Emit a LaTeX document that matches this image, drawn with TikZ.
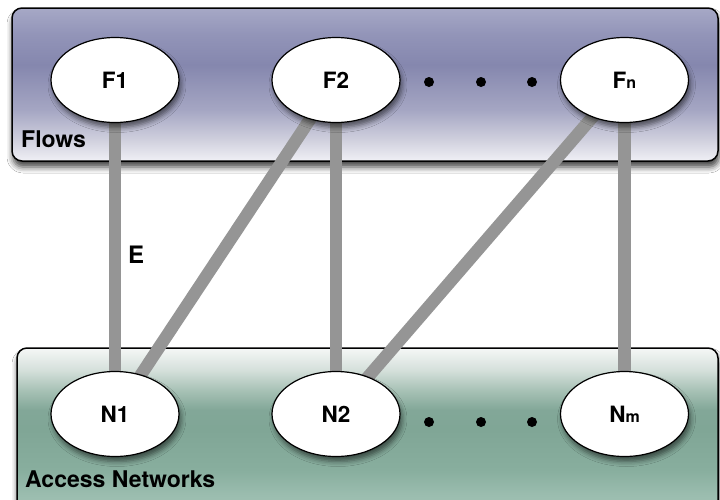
\documentclass[tikz,border=0pt]{standalone}
\usepackage{fontspec}
\setmainfont{TeX Gyre Heros}
\usepackage{xcolor}
\definecolor{flowa}{HTML}{F0F0F5}
\definecolor{flowb}{HTML}{D0D0DE}
\definecolor{flowc}{HTML}{A5A6C3}
\definecolor{flowd}{HTML}{8587AE}
\definecolor{flowe}{HTML}{9294B8}
\definecolor{flowf}{HTML}{A6A8C6}
\definecolor{neta}{HTML}{A5C4B7}
\definecolor{netb}{HTML}{9BBDAF}
\definecolor{netc}{HTML}{88AE9E}
\definecolor{netd}{HTML}{80A696}
\definecolor{nete}{HTML}{82A798}
\definecolor{netf}{HTML}{A8C2B6}
\definecolor{netg}{HTML}{D5E0DB}
\definecolor{neth}{HTML}{F5F7F6}
\definecolor{linkgray}{HTML}{959595}
\usetikzlibrary{positioning,shapes.geometric,shadows,shadows.blur}
\pgfdeclareverticalshading{flowshade}{100bp}{color(0bp)=(flowa); color(25bp)=(flowa);
  color(31.9bp)=(flowb); color(41.7bp)=(flowc); color(56.4bp)=(flowd);
  color(66.2bp)=(flowe); color(75bp)=(flowf); color(100bp)=(flowf)}
\pgfdeclareverticalshading{netshade}{100bp}{color(0bp)=(neta); color(25bp)=(neta);
  color(32.3bp)=(netb); color(39.5bp)=(netc); color(51.2bp)=(netd);
  color(57bp)=(nete); color(62.8bp)=(netf); color(68.6bp)=(netg);
  color(75bp)=(neth); color(100bp)=(neth)}
\pgfdeclarelayer{back}
\pgfdeclarelayer{links}
\pgfsetlayers{back,links,main}
\tikzset{
  zone/.style  ={rectangle, rounded corners=10pt, draw=black, line width=1.5pt,
                 blur shadow={shadow xshift=1pt, shadow yshift=-6pt, shadow opacity=75,
                              shadow blur radius=6pt}},
  flowzone/.style={zone, shading=flowshade},
  netzone/.style ={zone, shading=netshade},
  ent/.style   ={ellipse, draw=black, line width=1.2pt, fill=white,
                 minimum width=128pt, minimum height=85pt, inner sep=0pt,
                 font=\fontsize{22.5}{25}\selectfont\bfseries,
                 blur shadow={shadow xshift=2pt, shadow yshift=-5pt, shadow opacity=55,
                              shadow blur radius=5pt}},
  link/.style  ={draw=linkgray, line width=12.5pt},
  zlabel/.style={font=\fontsize{23}{26}\selectfont\bfseries, anchor=base west, inner sep=0pt},
  dot/.style   ={circle, fill=black, inner sep=0pt, minimum size=10pt},
}
\newcommand{\sub}[1]{{\fontsize{16}{16}\selectfont #1}}

\begin{document}
\begin{tikzpicture}[x=1pt, y=-1pt]
  \clip (0,0) rectangle (720,499);
  % flow and network nodes
  \node[ent] (f1) at (115,80) {F1};
  \node[ent] (f2) at (336,80) {F2};
  \node[ent] (fn) at (624.5,80) {F\sub{n}};
  \node[ent] (n1) at (115,414) {N1};
  \node[ent] (n2) at (336,414) {N2};
  \node[ent] (nm) at (624.5,414) {N\sub{m}};
  \foreach \x in {429,481,532} {
    \node[dot] (fd\x) at (\x,82) {};
    \node[dot] (nd\x) at (\x,422) {};
  }
  \node[zlabel] (flowtxt) at (21,147) {Flows};
  \node[zlabel] (nettxt) at (25,487) {Access Networks};
  \node[zlabel, font=\fontsize{24}{27}\selectfont\bfseries] (etxt) at (128,263) {E};
  \begin{pgfonlayer}{back}
    \fill[white] (0,0) rectangle (720,499);
    \node[flowzone, minimum width=706pt, minimum height=153pt] (flows) at (365,84.5) {};
    \node[netzone, minimum width=701pt, minimum height=172pt] (nets) at (367.5,434) {};
  \end{pgfonlayer}
  \begin{pgfonlayer}{links}
    \draw[link] (f1.center) -- (n1.center);
    \draw[link] (f2.center) -- (n1.center);
    \draw[link] (f2.center) -- (n2.center);
    \draw[link] (fn.center) -- (n2.center);
    \draw[link] (fn.center) -- (nm.center);
  \end{pgfonlayer}
\end{tikzpicture}
\end{document}
